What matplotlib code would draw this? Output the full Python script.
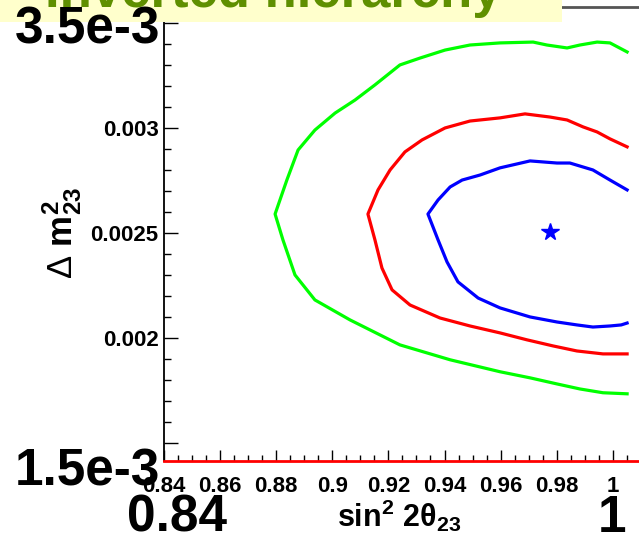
import matplotlib
matplotlib.use('Agg')
import matplotlib.pyplot as plt
from matplotlib.patches import Rectangle
from matplotlib.ticker import FixedLocator, FixedFormatter, MultipleLocator

plt.rcParams['font.family'] = ['Liberation Sans', 'DejaVu Sans']
plt.rcParams['mathtext.fontset'] = 'custom'
plt.rcParams['mathtext.rm'] = 'Liberation Sans'
plt.rcParams['mathtext.bf'] = 'Liberation Sans:bold'
plt.rcParams['mathtext.it'] = 'Liberation Sans:italic'

# contour data (sin^2 2theta23, dm^2_23)
green_x = [1.0051, 0.9990, 0.9944, 0.9883, 0.9837, 0.9765, 0.9716, 0.9598, 0.9491,
           0.9402, 0.9313, 0.9241, 0.9152, 0.9081, 0.9010, 0.8938, 0.8878, 0.8838,
           0.8796, 0.8824, 0.8867, 0.8938, 0.9063, 0.9241, 0.9420, 0.9598, 0.9705,
           0.9801, 0.9883, 0.9965, 1.0051]
green_y = [0.003362, 0.003405, 0.003409, 0.003395, 0.003381, 0.003395, 0.003409,
           0.003405, 0.003395, 0.003371, 0.003333, 0.003300, 0.003205, 0.003133,
           0.003071, 0.002990, 0.002895, 0.002752, 0.002590, 0.002467, 0.002300,
           0.002181, 0.002086, 0.001967, 0.001896, 0.001839, 0.001810, 0.001781,
           0.001757, 0.001739, 0.001734]

red_x = [1.0051, 0.9990, 0.9944, 0.9894, 0.9837, 0.9776, 0.9687, 0.9598, 0.9491,
         0.9402, 0.9320, 0.9259, 0.9206, 0.9163, 0.9127, 0.9152, 0.9177, 0.9213,
         0.9277, 0.9384, 0.9491, 0.9598, 0.9694, 0.9787, 0.9872, 0.9965, 1.0051]
red_y = [0.002910, 0.002948, 0.002981, 0.003005, 0.003038, 0.003052, 0.003067,
         0.003048, 0.003033, 0.003000, 0.002943, 0.002886, 0.002800, 0.002705,
         0.002590, 0.002467, 0.002333, 0.002229, 0.002157, 0.002095, 0.002057,
         0.002024, 0.001991, 0.001962, 0.001938, 0.001924, 0.001924]

blue_x = [1.0051, 0.9990, 0.9929, 0.9847, 0.9801, 0.9705, 0.9598, 0.9527, 0.9463,
          0.9420, 0.9377, 0.9341, 0.9377, 0.9409, 0.9448, 0.9520, 0.9598, 0.9705,
          0.9801, 0.9872, 0.9929, 0.9990, 1.0030, 1.0051]
blue_y = [0.002705, 0.002752, 0.002800, 0.002833, 0.002833, 0.002843, 0.002810,
          0.002776, 0.002752, 0.002719, 0.002657, 0.002590, 0.002467, 0.002362,
          0.002267, 0.002190, 0.002143, 0.002100, 0.002076, 0.002062, 0.002052,
          0.002057, 0.002062, 0.002071]

best_x = [0.9776]
best_y = [0.002505]

x_ticks = [0.84, 0.86, 0.88, 0.90, 0.92, 0.94, 0.96, 0.98, 1.00]
x_labels = ['0.84', '0.86', '0.88', '0.9', '0.92', '0.94', '0.96', '0.98', '1']
y_ticks = [0.0015, 0.0020, 0.0025, 0.0030, 0.0035]
y_labels = ['', '0.002', '0.0025', '0.003', '']

W, H = 639, 542
fig = plt.figure(figsize=(W / 100, H / 100), dpi=100)


def fx(px):
    return px / W


def fy(py):
    return 1 - py / H


xmin, xmax = 0.84, 1.01
ymin, ymax = 0.001414, 0.003576
x_left, x_per = 164, 56.1 / 0.02
ax = fig.add_axes([fx(x_left), fy(461), (xmax - xmin) * x_per / W, (461 - 7) / H])

ax.plot(green_x, green_y, color='#00ff00', lw=2.3)
ax.plot(red_x, red_y, color='#ff0000', lw=2.3)
ax.plot(blue_x, blue_y, color='#0000ff', lw=2.3)
ax.plot(best_x, best_y, marker='*', color='#0000ff', ms=13, ls='none')

ax.set_xlim(xmin, xmax)
ax.set_ylim(ymin, ymax)

ax.xaxis.set_major_locator(FixedLocator(x_ticks))
ax.xaxis.set_major_formatter(FixedFormatter(x_labels))
ax.xaxis.set_minor_locator(MultipleLocator(0.005))
ax.yaxis.set_major_locator(FixedLocator(y_ticks))
ax.yaxis.set_major_formatter(FixedFormatter(y_labels))
ax.yaxis.set_minor_locator(MultipleLocator(0.0001))

ax.tick_params(axis='x', which='major', direction='in', length=8, width=1, pad=11,
               labelsize=16)
ax.tick_params(axis='x', which='minor', direction='in', length=4, width=1)
ax.tick_params(axis='y', which='major', direction='in', length=10, width=1, pad=4,
               labelsize=16)
ax.tick_params(axis='y', which='minor', direction='in', length=5, width=1)
for lab in ax.get_xticklabels() + ax.get_yticklabels():
    lab.set_fontweight('bold')

ax.spines['right'].set_visible(False)
ax.spines['top'].set_color('#555555')
ax.spines['top'].set_linewidth(2)
ax.spines['left'].set_linewidth(1.3)
ax.spines['bottom'].set_color('#ff0000')
ax.spines['bottom'].set_linewidth(2)

# axis titles
fig.text(fx(337), fy(527), r'$\mathbf{sin^{2}\ 2θ_{23}}$', fontsize=22,
         ha='left', va='baseline')
fig.text(fx(62), fy(233), r'$\Delta\ \mathbf{m^{2}_{23}}$', fontsize=25,
         rotation=90, ha='center', va='center')

# big overlay labels
big = dict(fontsize=37, fontweight='bold', color='black', va='baseline', zorder=10)
fig.text(fx(160), fy(43), '3.5e-3', ha='right', **big)
fig.text(fx(160), fy(485), '1.5e-3', ha='right', **big)
fig.text(fx(177), fy(532), '0.84', ha='center', **big)
fig.text(fx(612), fy(532), '1', ha='center', **big)

# title banner (cut at the top)
fig.patches.append(Rectangle((0, fy(22)), fx(562), 1 - fy(22), transform=fig.transFigure,
                             facecolor='#ffffcc', edgecolor='none', zorder=5))
fig.text(fx(45), fy(7), 'Inverted hierarchy', fontsize=38, fontweight='bold',
         color='#5f8f00', ha='left', va='baseline', zorder=6)

fig.savefig('out.png', dpi=100)
